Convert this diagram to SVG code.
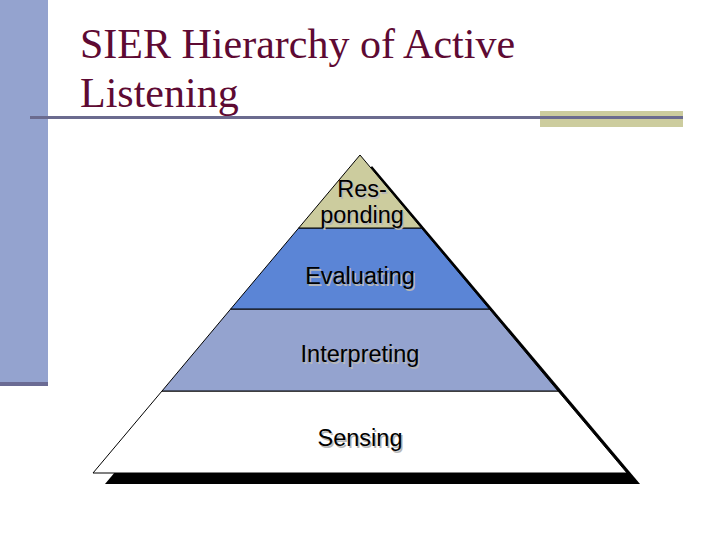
<svg xmlns="http://www.w3.org/2000/svg" width="720" height="540" viewBox="0 0 720 540">
<style>
.title{font-family:"Liberation Serif","Times New Roman",serif;font-size:42px;fill:#5E0A33}
.lbl{font-family:"Liberation Sans",Arial,sans-serif;font-size:23.5px;text-anchor:middle}
.sh{fill:#b8b8b8}
.tx{fill:#000}
.layer{stroke:#000;stroke-width:1}
</style>
<rect width="720" height="540" fill="#fff"/>
<g id="decor">
<rect x="0" y="0" width="48" height="382" fill="#94A3CF"/>
<rect x="0" y="382" width="48" height="4" fill="#6B6B94"/>
<rect x="540" y="111" width="143" height="16" fill="#CCCC9E"/>
<rect x="30" y="116" width="653" height="3" fill="#6B6B8F"/>
</g>
<g id="title">
<text class="title" x="80" y="58">SIER Hierarchy of Active</text>
<text class="title" x="80" y="107">Listening</text>
</g>
<g id="shadow">
<polygon points="372,166 640,484 105,484" fill="#000"/>
</g>
<g id="sensing">
<polygon class="layer" points="162,391 558,391 627,473 93,473" fill="#fff"/>
<text class="lbl sh" x="361.5" y="447.5">Sensing</text>
<text class="lbl tx" x="360" y="446">Sensing</text>
</g>
<g id="interpreting">
<polygon class="layer" points="230.7,309 489.3,309 558,391 162,391" fill="#94A3CF"/>
<text class="lbl sh" x="361.5" y="363.5">Interpreting</text>
<text class="lbl tx" x="360" y="362">Interpreting</text>
</g>
<g id="evaluating">
<polygon class="layer" points="298.7,228 421.3,228 489.3,309 230.7,309" fill="#5B85D6"/>
<text class="lbl sh" x="361.5" y="285.5">Evaluating</text>
<text class="lbl tx" x="360" y="284">Evaluating</text>
</g>
<g id="responding">
<polygon class="layer" points="360,155 421.3,228 298.7,228" fill="#CCCC9E"/>
<text class="lbl sh" x="363.5" y="198.5">Res-</text>
<text class="lbl tx" x="362" y="197">Res-</text>
<text class="lbl sh" x="363.5" y="224.5">ponding</text>
<text class="lbl tx" x="362" y="223">ponding</text>
</g>
</svg>
